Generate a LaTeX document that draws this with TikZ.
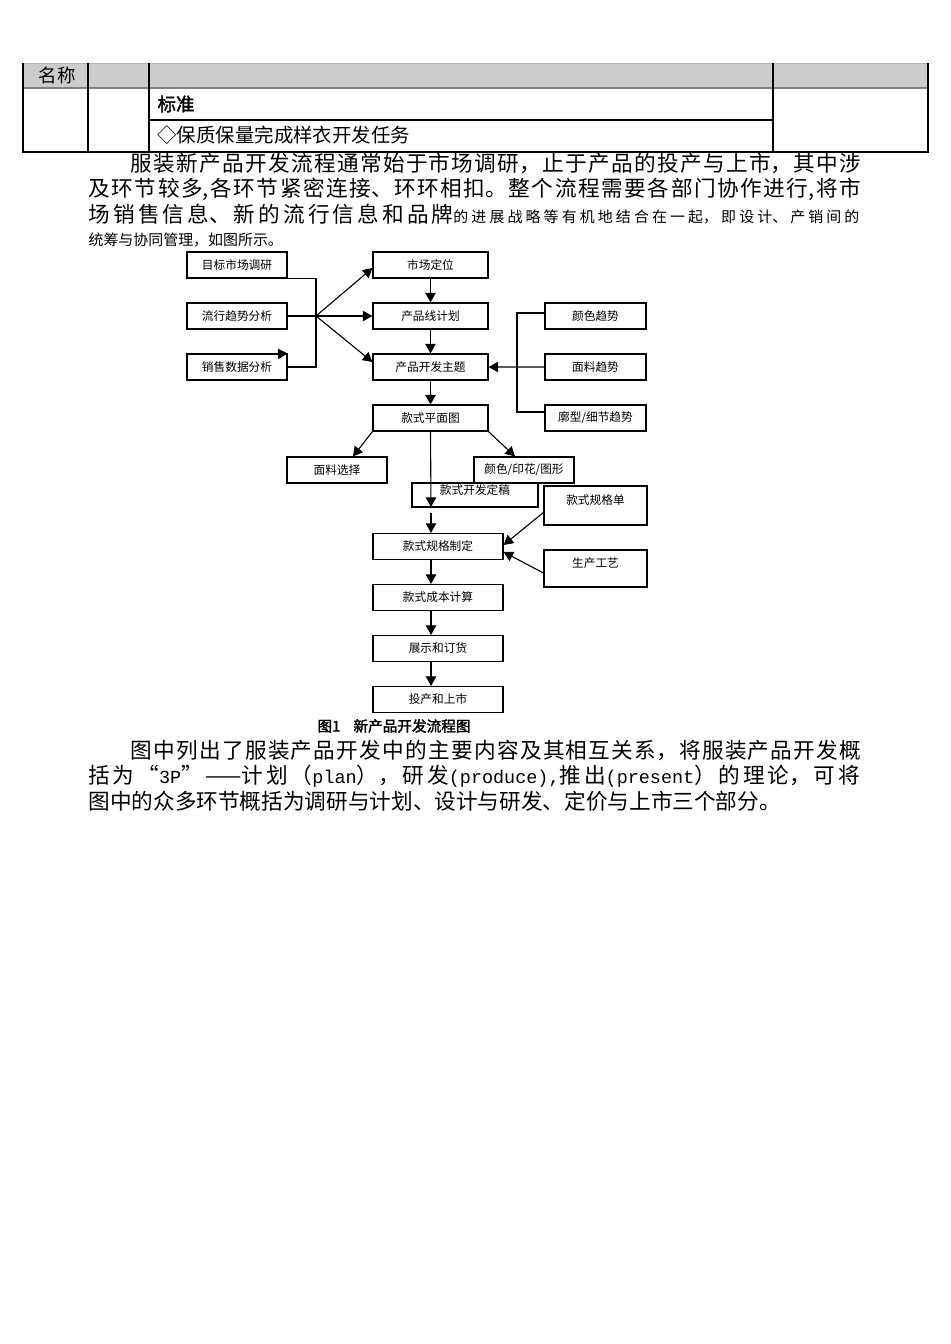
\documentclass[tikz,border=0pt]{standalone}
\usepackage{fontspec}
\setmainfont{Noto Sans CJK SC}[AutoFakeBold=2]
\newfontfamily\monofont{Liberation Mono}
\usetikzlibrary{arrows.meta}

\XeTeXlinebreaklocale "zh"
\XeTeXlinebreakskip=0pt plus 1fil

\newdimen\pxu
\pxu=0.0221cm

\newcommand\dfont{\fontsize{7.35pt}{9pt}\selectfont}
\newcommand\bodyfont{\fontsize{13.6pt}{16pt}\selectfont}
\newcommand\minorfont{\fontsize{9.4pt}{12pt}\selectfont}
\newcommand\eng[1]{{\fontsize{11.6pt}{14pt}\monofont #1}}

\tikzset{
  box/.style={draw, inner sep=0pt, minimum width=100\pxu, minimum height=26\pxu, font=\dfont},
  midbox/.style={box, minimum width=115\pxu},
  lowbox/.style={box, minimum width=130\pxu},
  notebox/.style={box, minimum width=103\pxu, text depth=12\pxu},
  textline/.style={anchor=west, inner sep=0pt, font=\bodyfont},
  cell/.style={inner sep=0pt, font=\fontsize{11.6pt}{14pt}\selectfont},
}

\begin{document}
\begin{tikzpicture}[x=0.0221cm, y=-0.0221cm, line width=0.7pt, >={Triangle[length=6pt,width=6.5pt]}, node distance=1.127cm]
  \path[fill=white] (0,0) rectangle (950,1344);

  % table
  \fill[gray!40] (23,63) rectangle (928,88);
  \draw[gray!60, line width=0.5pt] (23,63) -- (928,63);
  \draw[gray, line width=1.5pt] (23,88) -- (928,88);
  \draw (23,63) -- (23,152) -- (928,152) -- (928,63)
        (88,63) -- (88,152) (149,63) -- (149,152) (773,63) -- (773,152)
        (149,120) -- (773,120);
  \node[cell] (head) at (57,75) {名称};
  \node[cell, anchor=west] (std) at (157,104) {\bfseries 标准};
  \node[cell, anchor=west, font=\fontsize{12.2pt}{14pt}\selectfont] (task) at (157,135) {◇保质保量完成样衣开发任务};

  % text above
  \node[textline, text width=732\pxu] (p1a) at (130,163) {\parfillskip=0pt\relax 服装新产品开发流程通常始于市场调研，止于产品的投产与上市，其中涉};
  \node[textline, text width=774\pxu] (p1b) at (88,189) {\parfillskip=0pt\relax 及环节较多,各环节紧密连接、环环相扣。整个流程需要各部门协作进行,将市};
  \node[textline, text width=774\pxu] (p1c) at (88,214) {\parfillskip=0pt\relax 场销售信息、新的流行信息和品牌{\minorfont 的进展战略等有机地结合在一起，即设计、产销间的}};
  \node[textline, font=\minorfont] (p1d) at (88,240) {统筹与协同管理，如图所示。};

  % flow chart
  \node[box] (research) at (237,265) {目标市场调研};
  \node[box, below of=research] (trend) {流行趋势分析};
  \node[box, below of=trend] (sales) {销售数据分析};
  \node[midbox] (position) at (430.5,265) {市场定位};
  \node[midbox, below of=position] (plan) {产品线计划};
  \node[midbox, below of=plan] (theme) {产品开发主题};
  \node[midbox, below of=theme] (flat) {款式平面图};
  \node[box, minimum width=101\pxu] (color) at (595.5,316) {颜色趋势};
  \node[box, minimum width=101\pxu, below of=color] (fabric) {面料趋势};
  \node[box, minimum width=101\pxu, below of=fabric] (silhouette) {廓型/细节趋势};
  \node[box] (fabsel) at (337,470) {面料选择};
  \node[box] (print) at (524,470) {颜色/印花/图形};
  \node[box, minimum width=126\pxu, minimum height=24\pxu, text depth=11\pxu] (final) at (475,495) {款式开发定稿};
  \node[notebox, minimum height=39\pxu] (sheet) at (595.5,505.5) {款式规格单};
  \node[notebox, minimum height=37\pxu] (craft) at (595.5,568.5) {生产工艺};
  \node[lowbox] (spec) at (438,546.5) {款式规格制定};
  \node[lowbox, below of=spec] (cost) {款式成本计算};
  \node[lowbox, below of=cost] (show) {展示和订货};
  \node[lowbox, below of=show] (launch) {投产和上市};
  \node[anchor=west, inner sep=0pt, font=\fontsize{9.2pt}{11pt}\selectfont\bfseries] (caption) at (317,726) {图1\hspace{0.9em}新产品开发流程图};

  \coordinate (jn) at (316,316);
  \coordinate (jr) at (517,367);
  \coordinate (stub) at (276,354);
  \coordinate (trunkA) at (431,507);
  \coordinate (trunkB) at (431,513);

  \draw (research.south east) -| (jn) |- (sales.east);
  \draw ([yshift=3\pxu]color.west) -| (jr) |- ([yshift=6\pxu]silhouette.west);
  \draw[->] (stub) -- (sales.north east);

  \path[->]
    (trend.east) edge (plan.west)
    (jn) edge ([yshift=-3\pxu]position.west)
    (jn) edge ([yshift=5\pxu]theme.west)
    (position) edge (plan)
    (plan) edge (theme)
    (theme) edge (flat)
    (fabric.west) edge (theme.east)
    (flat.south west) edge ([xshift=16\pxu]fabsel.north)
    (flat.south east) edge ([xshift=-9\pxu]print.north)
    (flat.south) edge (trunkA)
    (trunkB) edge (spec.north -| trunkB)
    ([yshift=-27\pxu]sheet.north west) edge ([yshift=1.5\pxu]spec.east)
    ([yshift=-4.5\pxu]craft.west) edge ([yshift=-5.5\pxu]spec.east)
    (spec.south -| trunkB) edge (cost.north -| trunkB)
    (cost.south -| trunkB) edge (show.north -| trunkB)
    (show.south -| trunkB) edge (launch.north -| trunkB);

  % text below
  \node[textline, text width=732\pxu] (p2a) at (130,750) {\parfillskip=0pt\relax 图中列出了服装产品开发中的主要内容及其相互关系，将服装产品开发概};
  \node[textline, text width=774\pxu] (p2b) at (88,776) {\parfillskip=0pt\relax 括为“\eng{3P}”——计划（\eng{plan}），研发\eng{(produce),}推出\eng{(present}）的理论，可将};
  \node[textline] (p2c) at (88,801) {图中的众多环节概括为调研与计划、设计与研发、定价与上市三个部分。};
\end{tikzpicture}
\end{document}
